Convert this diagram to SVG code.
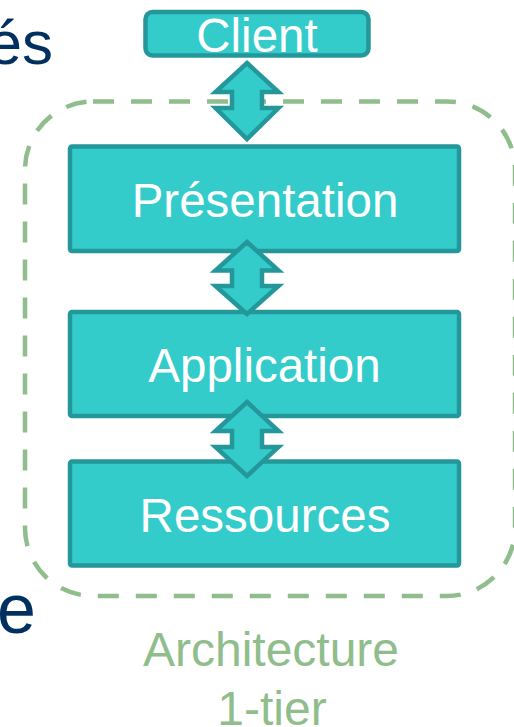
<svg xmlns="http://www.w3.org/2000/svg" width="514" height="727" viewBox="0 0 514 727">
<style>
.box{fill:#34cbcb;stroke:#24979a;stroke-width:4.5}
.lbl{font-family:"Liberation Sans",Arial,sans-serif;font-size:47.5px;fill:#ffffff;text-anchor:middle}
.arr{fill:#34cbcb;stroke:#24979a;stroke-width:4.5;stroke-linejoin:miter;stroke-miterlimit:10}
.title{font-family:"Liberation Sans",Arial,sans-serif;fill:#00305f}
.cap{font-family:"Liberation Sans",Arial,sans-serif;font-size:48px;fill:#8fbd8c;text-anchor:middle}
</style>
<rect width="514" height="727" fill="#ffffff"/>
<g id="background-text">
<text class="title" x="53" y="64" font-size="62" text-anchor="end">és</text>
<text class="title" x="-3" y="633" font-size="70">e</text>
</g>
<g id="tier-boundary">
<rect x="25" y="101.5" width="490" height="494.5" rx="68" ry="68" fill="none" stroke="#8fbd8c" stroke-width="4.5" stroke-dasharray="21 17"/>
<text class="cap" x="271" y="666">Architecture</text>
<text class="cap" x="272" y="725">1-tier</text>
</g>
<g id="client">
<rect class="box" x="145.5" y="12" width="223" height="43.5" rx="7" ry="7"/>
<text class="lbl" x="257" y="52" font-size="48">Client</text>
</g>
<g id="presentation">
<rect class="box" x="70" y="146.5" width="389" height="104.5" rx="2"/>
<text class="lbl" x="265" y="217">Présentation</text>
</g>
<g id="application">
<rect class="box" x="70" y="312" width="389" height="104" rx="2"/>
<text class="lbl" x="264.5" y="381.5">Application</text>
</g>
<g id="ressources">
<rect class="box" x="70" y="461.5" width="389" height="104" rx="2"/>
<text class="lbl" x="265" y="531.5">Ressources</text>
</g>
<g id="connectors">
<path class="arr" d="M247,63 L278.5,92 L262,92 L262,108 L278.5,108 L247,139 L215.5,108 L232,108 L232,92 L215.5,92 Z"/>
<path class="arr" d="M247,242 L278.5,270.5 L262,270.5 L262,286 L278.5,286 L247,314 L215.5,286 L232,286 L232,270.5 L215.5,270.5 Z"/>
<path class="arr" d="M247,402 L278.5,431 L262,431 L262,447 L278.5,447 L247,476 L215.5,447 L232,447 L232,431 L215.5,431 Z"/>
</g>
</svg>
